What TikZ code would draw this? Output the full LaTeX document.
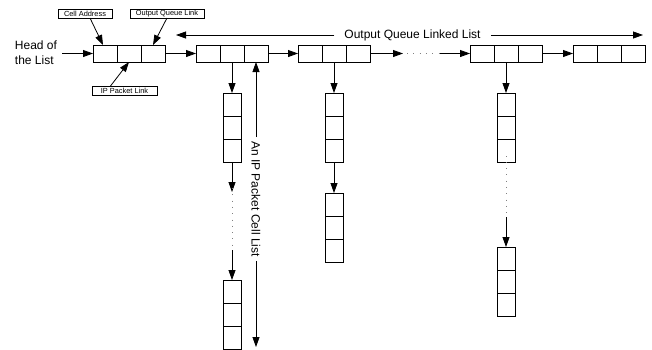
\documentclass[tikz,border=0pt]{standalone}
\usepackage{fontspec}
\setmainfont{Liberation Sans}
\usetikzlibrary{arrows.meta}
\begin{document}
\begin{tikzpicture}[x=1pt,y=-1pt,
  hcell/.style={draw,line width=0.8pt,minimum width=24pt,minimum height=17pt,inner sep=0pt,outer sep=0pt},
  vcell/.style={draw,line width=0.8pt,minimum width=18pt,minimum height=23pt,inner sep=0pt,outer sep=0pt},
  lab/.style={draw,line width=0.6pt,font=\fontsize{7.4}{8}\selectfont,minimum height=9pt,inner sep=0pt,outer sep=0pt},
  big/.style={font=\fontsize{12}{15}\selectfont},
  arr/.style={line width=0.8pt,-{Triangle[length=10pt,width=7pt]}},
  dotline/.style={gray,line width=0.8pt,dash pattern=on 0.8pt off 5.5pt}]
\useasboundingbox (0,0) rectangle (652,349);
% horizontal groups
\foreach \g/\x in {1/93,2/196,3/298,4/470,5/573}{
  \node[hcell] (g\g a) at (\x+12,53.5) {};
  \node[hcell] (g\g b) at (\x+36,53.5) {};
  \node[hcell] (g\g c) at (\x+60,53.5) {};
}
% vertical cell lists
\foreach \n/\x/\y in {c1a/232/93, c1b/232/280, c2a/334/93, c2b/334/193, c3a/506/93, c3b/506/247}{
  \node[vcell] (\n1) at (\x,\y+11.5) {};
  \node[vcell] (\n2) at (\x,\y+34.5) {};
  \node[vcell] (\n3) at (\x,\y+57.5) {};
}
% texts
\node[big,align=left,inner sep=2pt] (head) at (36,53) {Head of\\the List};
\node[lab,minimum width=54pt] (ca) at (85,13.5) {Cell Address};
\node[lab,minimum width=74pt] (oqlk) at (167,13.5) {Output Queue Link};
\node[lab,minimum width=65pt] (ipl) at (124.5,90.5) {IP Packet Link};
\node[big,inner xsep=10pt,inner ysep=2pt] (oql) at (412.5,35) {Output Queue Linked List};
\node[big,rotate=-90,inner xsep=4pt,inner ysep=2pt] (ipc) at (256,199) {An IP Packet Cell List};
% coordinates
\coordinate (headR) at (62,53.5);
\coordinate (oqlL) at (176,35);
\coordinate (oqlR) at (643,35);
\coordinate (hd1) at (403,53.5);
\coordinate (hd2) at (440,53.5);
\coordinate (v1a) at (232,192);
\coordinate (v1b) at (232,250);
\coordinate (v3a) at (506,168);
\coordinate (v3b) at (506,217);
\coordinate (ipEnd) at (256,347);
% label arrows
\draw[arr] ([xshift=5pt]ca.south) -- ([xshift=-2pt]g1a.north);
\draw[arr] (oqlk.south) -- (g1c.north);
\draw[arr] ([xshift=-14pt]ipl.north) -- (g1b.south);
\draw[arr] (headR) -- (g1a.west);
% horizontal chain
\draw[arr] (g1c.east) -- (g2a.west);
\draw[arr] (g2c.east) -- (g3a.west);
\draw[arr] (g3c.east) -- (hd1);
\draw[dotline] ([xshift=4pt]hd1) -- (hd2);
\draw[arr] (hd2) -- (g4a.west);
\draw[arr] (g4c.east) -- (g5a.west);
% top arrow
\draw[arr] (oql.west) -- (oqlL);
\draw[arr] (oql.east) -- (oqlR);
% vertical links
\draw[arr] (g2b.south) -- (c1a1.north);
\draw[arr] (c1a3.south) -- (v1a);
\draw[dotline] ([yshift=4pt]v1a) -- ([yshift=-4pt]v1b);
\draw[arr] (v1b) -- (c1b1.north);
\draw[arr] (g3b.south) -- (c2a1.north);
\draw[arr] (c2a3.south) -- (c2b1.north);
\draw[arr] (g4b.south) -- (c3a1.north);
\draw[dotline] ([yshift=6pt]c3a3.south) -- (v3a);
\draw[dotline] (v3a) -- ([yshift=-4pt]v3b);
\draw[arr] (v3b) -- (c3b1.north);
% IP packet cell list arrow
\draw[arr] (ipc.west) -- (g2c.south);
\draw[arr] (ipc.east) -- (ipEnd);
\end{tikzpicture}
\end{document}
